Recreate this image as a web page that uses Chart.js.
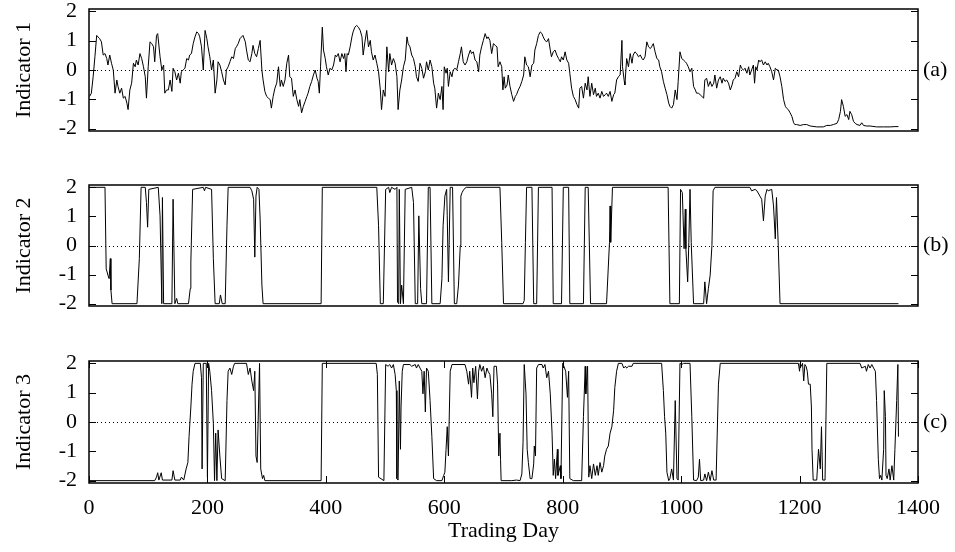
<!DOCTYPE html>
<html>
<head>
<meta charset="utf-8">
<script src="https://cdn.jsdelivr.net/npm/chart.js@4.4.0/dist/chart.umd.min.js"></script>
<style>
  body { margin: 0; background: #fff; }
  canvas { position: absolute; left: 0; }
</style>
</head>
<body>
<canvas id="g1" width="955" height="140" style="top:0px"></canvas>
<canvas id="g2" width="955" height="140" style="top:175px"></canvas>
<canvas id="g3" width="955" height="202" style="top:350px"></canvas>
<script>
// Ejes y textos
const xTicks = [0, 200, 400, 600, 800, 1000, 1200, 1400];
const yTicks = [-2, -1, 0, 1, 2];
const yTickLabels = ['-2', '-1', '0', '1', '2'];
const axisTitles = ['Indicator 1', 'Indicator 2', 'Indicator 3'];
const panelLabels = ['(a)', '(b)', '(c)'];
const xTitle = 'Trading Day';

// Indicador 1 (dia de negociacion -> valor)
const days1 = [
  1, 4, 7, 10, 13, 15, 18, 21, 24, 27,
  30, 32, 35, 38, 41, 44, 47, 49, 52, 55,
  58, 61, 64, 66, 69, 72, 75, 78, 80, 83,
  86, 89, 92, 95, 97, 100, 103, 106, 109, 111,
  114, 116, 120, 123, 126, 128, 131, 134, 137, 140,
  142, 145, 148, 151, 154, 156, 159, 162, 165, 168,
  170, 173, 176, 179, 182, 185, 187, 190, 193, 196,
  199, 201, 204, 207, 210, 213, 216, 218, 221, 224,
  227, 230, 232, 235, 238, 241, 244, 247, 249, 252,
  255, 260, 264, 266, 269, 272, 275, 277, 280, 283,
  286, 289, 292, 294, 297, 300, 303, 306, 308, 311,
  314, 317, 320, 323, 325, 328, 331, 334, 337, 339,
  342, 345, 348, 351, 354, 356, 359, 362, 365, 368,
  370, 373, 376, 379, 382, 385, 387, 389, 391, 394,
  396, 399, 401, 404, 407, 410, 413, 416, 418, 421,
  424, 427, 430, 432, 434, 436, 438, 441, 444, 446,
  449, 452, 455, 458, 461, 463, 466, 469, 472, 475,
  477, 480, 483, 486, 489, 492, 494, 497, 500, 503,
  506, 508, 511, 514, 517, 520, 522, 525, 528, 531,
  534, 537, 539, 542, 545, 548, 551, 553, 556, 559,
  562, 565, 568, 570, 573, 576, 579, 582, 584, 587,
  590, 593, 596, 598, 600, 603, 605, 607, 610, 613,
  615, 618, 621, 624, 627, 629, 632, 635, 638, 641,
  644, 646, 649, 652, 655, 658, 660, 663, 666, 669,
  672, 674, 677, 680, 683, 686, 689, 691, 694, 697,
  699, 701, 703, 706, 708, 711, 714, 717, 720, 722,
  725, 728, 731, 734, 736, 739, 742, 745, 748, 751,
  753, 756, 759, 762, 765, 767, 770, 773, 776, 779,
  781, 784, 787, 790, 793, 796, 798, 801, 804, 807,
  810, 812, 815, 818, 821, 824, 827, 829, 832, 835,
  838, 841, 843, 846, 849, 852, 855, 857, 860, 863,
  866, 869, 872, 874, 877, 880, 883, 886, 888, 891,
  894, 897, 900, 901, 904, 905, 908, 911, 914, 917,
  919, 922, 925, 928, 931, 934, 936, 939, 942, 945,
  948, 950, 953, 956, 959, 962, 964, 967, 970, 973,
  976, 979, 981, 984, 987, 990, 993, 995, 998, 1001,
  1004, 1007, 1009, 1012, 1015, 1018, 1021, 1024, 1026, 1029,
  1032, 1035, 1038, 1040, 1043, 1046,
  1049, 1052, 1055, 1057, 1060, 1063, 1066, 1069, 1071, 1074,
  1077, 1080, 1083, 1086, 1088, 1091, 1094, 1097, 1100, 1102,
  1105, 1108, 1111, 1114, 1116, 1119, 1122, 1124, 1126, 1128,
  1131, 1133, 1136, 1139, 1142, 1145, 1147, 1150, 1153, 1156,
  1159, 1162, 1164, 1167, 1170, 1173, 1176, 1178, 1181, 1184,
  1187, 1190, 1192, 1195, 1201, 1207, 1212, 1218, 1229, 1240,
  1246, 1252, 1257, 1263, 1266, 1269, 1271, 1274, 1277, 1280,
  1283, 1285, 1288, 1291, 1294, 1297, 1302, 1305, 1308, 1313,
  1319, 1330, 1342, 1353, 1361, 1367
];
const indicator1 = [
  -0.90, -0.79, -0.23, 0.45, 1.18, 1.13, 1.07, 0.96, 0.51, 0.56,
  0.39, 0.17, 0.51, 0.23, 0, -0.79, -0.34, -0.56, -0.79, -0.62,
  -0.96, -0.90, -1.13, -1.35, -0.68, -0.45, 0.23, 0.11, 0.34, 0.17,
  0.56, 0.39, 0.11, -0.23, -0.96, 0.11, 0.96, 0.90, 0.79, 0.28,
  1.18, 1.24, 0.45, 0, 0.17, -0.79, -0.68, -0.68, -0.34, -0.73,
  0.06, -0.06, -0.34, -0.11, -0.45, -0.06, 0, 0.06, 0.39, 0.34,
  0.51, 0.56, 0.90, 1.13, 1.30, 1.24, 1.13, 0.79, 0, 1.35,
  1.07, 0.79, 0.45, 0, 0.34, -0.79, -0.34, 0.28, 0.17, -0.06,
  -0.34, -0.51, 0, 0.11, 0.28, 0.45, 0.39, 0.73, 0.79, 0.90,
  1.07, 1.18, 0.96, 0.68, 0.34, 0.28, 0.56, 0.84, 0.56, 0.45,
  0.73, 1.01, 0, -0.34, -0.73, -0.90, -0.96, -1.01, -1.30, -0.90,
  -0.62, -0.45, 0.11, -0.56, -0.34, -0.56, -0.34, 0.23, 0.51, -0.23,
  -0.28, -0.90, -0.68, -1.01, -1.24, -1.01, -1.46, -1.24, -1.07, -0.90,
  -0.79, -0.56, -0.39, -0.17, 0, -0.28, -0.39, -0.79, 0.11, 1.46,
  0.68, 0.39, 0.11, -0.17, 0.06, 0, 0.17, 0.51, 0.45, 0.56,
  0.28, 0.56, 0.39, 0.56, -0.06, 0.56, 0.51, 0.79, 1.13, 1.30,
  1.46, 1.52, 1.46, 1.35, 1.13, 0.51, 0.96, 1.35, 0.79, 1.01,
  0.62, 0.34, 0.51, 0.23, -0.06, -0.68, -1.35, -0.68, -0.90, 0.79,
  -0.06, 0.56, 0.17, 0.39, 0.23, -0.23, -1.35, -0.68, -0.34, 0.11,
  0.34, 1.13, 0.90, 0.79, 0.51, 0.39, 0.11, -0.23, -0.39, 0.23,
  0.06, -0.28, -0.06, 0.28, 0, 0.34, 0.11, -0.45, -0.62, -1.30,
  -0.79, -1.01, -0.56, -1.35, 0.11, -0.11, 0.06, -0.56, -0.06, -0.23,
  0, 0.06, 0, 0.28, 0.56, 0.79, 0.28, 0.17, 0.28, 0.51,
  0.68, 0.56, 0.62, 0.34, 0.28, -0.06, 0.51, 0.79, 1.01, 1.24,
  1.07, 1.13, 1.01, 0.56, 0.90, 0.84, 0.79, 0.11, 0.28, 0.11,
  -0.68, -0.23, -0.62, -0.51, -0.17, -0.56, -0.84, -1.07, -0.90, -0.84,
  -0.68, -0.56, -0.39, -0.17, 0.45, 0.17, 0.11, -0.23, 0.17, 0.23,
  0.68, 0.90, 1.18, 1.30, 1.24, 1.13, 1.01, 0.96, 1.07, 0.68,
  0.45, 0.62, 0.68, 0.51, 0.39, 0.28, 0.45, 0.34, 0.62, 0.34,
  0.23, -0.11, -0.62, -0.90, -1.01, -1.18, -1.30, -0.62, -0.56, -0.96,
  -0.45, -0.68, -0.23, -0.90, -0.45, -0.84, -0.62, -0.90, -0.79, -0.96,
  -0.73, -0.90, -0.84, -0.79, -0.90, -0.73, -1.07, -0.84, -0.79, -0.34,
  -0.23, -0.17, 1.01, 0.11, -0.39, -0.51, 0.39, 0.11, 0.56, 0.23,
  0.51, 0.62, 0.56, 0.45, 0.51, 0.39, 0.34, 0.45, 0.96, 0.79,
  0.73, 0.79, 0.90, 0.62, 0.39, 0.34, 0.11, -0.06, -0.39, -0.62,
  -0.84, -1.13, -1.24, -1.30, -1.18, -0.68, -1.01, -0.39, 0.62, 0.39,
  0.34, 0.28, 0.23, 0.11, -0.06, 0.06, -0.56, -0.68, -0.79, -0.79,
  -0.84, -0.90, -0.96, -0.34, -0.28, -0.56,
  -0.39, -0.56, -0.45, -0.17, -0.62, -0.34, -0.23, -0.45, -0.28, -0.39,
  -0.34, -0.45, -0.68, -0.51, -0.34, -0.28, -0.06, -0.23, 0.17, 0.06,
  0, 0.06, -0.11, 0.11, -0.17, 0, 0.17, -0.45, 0.11, 0,
  0.34, 0.28, 0.34, 0.17, 0.28, 0.17, 0.23, 0.11, -0.06, -0.34,
  0.06, 0, 0, -0.23, -0.56, -1.01, -1.24, -1.30, -1.35, -1.46,
  -1.58, -1.80, -1.86, -1.86, -1.89, -1.86, -1.86, -1.91, -1.94, -1.94,
  -1.89, -1.89, -1.86, -1.82, -1.69, -1.41, -1.01, -1.24, -1.58, -1.52,
  -1.69, -1.41, -1.52, -1.75, -1.82, -1.86, -1.89, -1.80, -1.89, -1.91,
  -1.91, -1.94, -1.94, -1.94, -1.93, -1.93
];

// Indicador 2
const days2 = [
  0, 27, 29, 32, 34, 36, 37, 39, 81, 85,
  88, 95, 97, 99, 101, 117, 120, 123, 124, 126,
  140, 142, 145, 148, 150, 168, 171, 172, 175, 193,
  195, 197, 207, 210, 213, 220, 222, 225, 230, 233,
  235, 272, 275, 278, 280, 282, 284, 287, 289, 292,
  294, 392, 394, 486, 489, 492, 497, 501, 506, 508,
  511, 517, 520, 521, 523, 524, 526, 528, 531, 534,
  545, 548, 551, 555, 557, 560, 562, 570, 573, 576,
  579, 593, 596, 598, 601, 604, 605, 607, 610, 614,
  617, 621, 624, 627, 628, 630, 633, 637, 694, 697,
  700, 733, 735, 737, 739, 748, 751, 756, 759, 782,
  784, 798, 801, 810, 812, 835, 838, 843, 847, 874,
  879, 880, 881, 884, 978, 981, 997, 999, 1002, 1005,
  1007, 1008, 1011, 1013, 1015, 1017, 1021, 1038, 1040, 1043,
  1046, 1049, 1052, 1054, 1057, 1116, 1119, 1125, 1128, 1133,
  1136, 1139, 1142, 1145, 1147, 1153, 1156, 1159, 1161, 1164,
  1167, 1367
];
const indicator2 = [
  2, 2, -0.80, -1.02, -1.14, -0.45, -1.53, -2, -2, -0.45,
  2, 2, 1.48, 0.63, 1.93, 2, 1.02, -2, 1.65, -2,
  -2, 1.59, -2, -1.82, -2, -2, -1.48, -0.57, 1.93, 2,
  1.88, 2, 1.93, -0.45, -2, -2, -1.70, -2, -2, 0.68,
  2, 2, 1.88, 1.59, -0.40, 1.70, 2, 1.93, 0.91, -1.36,
  -2, -2, 2, 2, 0.68, -2, -2, 1.93, 2, 1.82,
  2, 1.93, 2, -1.94, -2, 1.93, -2, -1.36, -2, 1.93,
  2, 1.48, -2, -2, 1.02, -1.48, -2, -2, 2, 2,
  -2, -2, -1.14, 0.68, 1.70, 1.93, 1.02, -1.25, 2, 2,
  -2, -2, -1.36, 0, 1.70, 1.82, 1.93, 2, 2, 0.11,
  -2, -2, -1.89, 0.11, 2, 2, -2, -2, 2, 2,
  -2, -2, 2, 2, -2, -2, 2, 2, -2, -2,
  0.11, 1.36, 0.11, 2, 2, -2, -2, 1.93, 1.82, -0.11,
  1.25, -0.11, -1.25, 0.11, 1.93, 0.11, -2, -2, -1.25, -2,
  -1.48, -1.02, 0, 1.88, 2, 2, 1.88, 1.93, 1.88, 1.70,
  1.59, 0.85, 1.70, 1.93, 1.88, 1.93, 1.36, 0.23, 1.65, 0,
  -2, -2
];

// Indicador 3
const days3 = [
  0, 111, 114, 116, 118, 122, 124, 140, 142, 145,
  154, 156, 160, 164, 167, 169, 172, 174, 176, 179,
  188, 190, 191, 193, 198, 200, 202, 204, 207, 210,
  212, 214, 216, 218, 221, 224, 230, 233, 235, 238,
  241, 244, 246, 266, 269, 272, 275, 278, 280, 282,
  284, 288, 290, 293, 295, 297, 392, 394, 485, 487,
  489, 498, 501, 505, 508, 511, 514, 517, 519, 520,
  522, 524, 526, 527, 529, 531, 542, 545, 551, 553,
  556, 559, 562, 564, 566, 568, 570, 573, 576, 579,
  582, 587, 596, 599, 601, 603, 605, 607, 610, 613,
  635, 638, 641, 643, 646, 648, 650, 653, 656, 658,
  660, 663, 666, 669, 672, 674, 677, 680, 682, 684,
  688, 690, 692, 694, 695, 696, 714, 722, 728, 731,
  733, 735, 738, 740, 742, 745, 748, 751, 752, 754,
  756, 759, 765, 767, 770, 773, 776, 779, 782, 784,
  786, 788, 791, 792, 796, 797, 800, 802, 805, 808,
  810, 812, 818, 832, 835, 838, 839, 842, 844, 846,
  849, 852, 855, 858, 860, 863, 866, 869, 871, 874,
  877, 880, 883, 886, 888, 891, 894, 900, 903, 906,
  908, 911, 917, 919, 967, 970, 972, 974, 976, 979,
  981, 984, 987, 990, 993, 995, 998, 1001, 1004, 1015,
  1018, 1021, 1026, 1029, 1031, 1033, 1038, 1040, 1043, 1046,
  1049, 1052, 1055, 1059, 1063, 1066, 1198, 1200, 1201, 1203,
  1205, 1207, 1209, 1211, 1213, 1215, 1218, 1220, 1221, 1223,
  1229, 1232, 1235, 1237, 1239, 1243, 1246, 1302, 1305, 1311,
  1313, 1316, 1319, 1322, 1325, 1328, 1330, 1333, 1335, 1337,
  1339, 1342, 1343, 1345, 1346, 1348, 1351, 1353, 1356, 1359,
  1361, 1364, 1366, 1367
];
const indicator3 = [
  -2, -2, -1.88, -1.73, -1.98, -1.73, -1.98, -1.98, -1.66, -1.98,
  -1.98, -1.88, -1.98, -1.60, -1.38, -0.49, 0.51, 1.29, 1.73, 2,
  2, 1.51, -1.60, 2, 2, -1.88, 2, 1.73, 1.07, -0.04,
  -2, -0.38, -2, -0.27, -1.16, -1.93, -2, 0.73, 1.73, 1.84,
  1.62, 1.90, 2, 2, 1.62, 1.84, 1.40, 1.07, 1.73, -1.16,
  -1.38, 2, -1.60, -1.93, -1.82, -2, -2, 2, 2, 1.62,
  -1.88, -2, 1.96, 1.90, 1.96, 1.84, 1.96, 1.62, 1.07, -1.93,
  -1.98, 1.40, -0.93, 0.51, 1.73, 1.96, 1.96, 1.90, 1.96, 1.84,
  1.96, 1.84, 1.73, 0.96, 1.73, 0.34, 1.84, 1.73, 0.73, -0.49,
  -1.93, -2, -2, -1.82, -1.71, -0.93, -0.16, -1.16, 1.73, 1.96,
  1.96, 1.73, 1.29, 1.73, 0.84, 1.84, 1.34, 1.90, 0.79, 1.73,
  1.96, 1.73, 1.90, 1.51, 1.84, 1.73, 1.62, 0.96, 0.18, 1.90,
  1.90, 1.29, -1.16, -0.38, -1.27, -2, -2, -1.98, -2, -1.77,
  -0.71, 1.96, 0.96, -0.93, -1.38, -1.93, -1.93, -1.43, -0.82, -1.16,
  1.84, 1.96, 1.96, 1.84, 1.96, 1.51, 1.73, 0.96, -0.38, -1.82,
  -1.27, -1.93, -0.93, -1.82, -1.49, -1.93, 2, 1.90, 1.73, 0.84,
  1.73, -1.93, -2, -2, 0.18, 1.90, 0.96, 1.90, -1.88, -1.49,
  -1.93, -1.43, -1.82, -1.49, -1.82, -1.38, -1.71, -1.49, -1.16, -0.93,
  -0.82, -0.38, -0.16, 0.40, 1.18, 1.73, 2, 2, 1.84, 1.90,
  1.84, 1.90, 1.90, 2, 2, 1.07, 0.18, -0.38, -1.71, -2,
  -1.93, -1.60, -1.98, 0.73, -1.93, -1.98, 2, 1.96, 2, 2,
  0.18, -1.98, -2, -1.88, -1.27, -2, -1.98, -1.77, -2, -1.71,
  -2, -1.66, -1.98, -1.98, 1.29, 2, 2, 1.73, 2, 1.90,
  2, 1.40, 1.96, 1.90, 1.73, 1.29, 1.29, 0.51, -0.93, -1.98,
  -1.98, -0.93, -1.60, -0.16, -1.98, -1.98, 2, 2, 1.84, 1.90,
  1.73, 1.96, 1.84, 1.96, 1.84, 1.73, 0.73, -1.27, -1.93, -1.82,
  -1.98, -0.93, 1.07, 0.18, -1.82, -1.93, -1.60, -1.98, -1.49, -1.98,
  -0.93, 0.73, 1.96, -0.50
];

const series = [[days1, indicator1], [days2, indicator2], [days3, indicator3]];

const FAMILIA = "'Liberation Serif', 'Times New Roman', serif";
Chart.defaults.font.family = FAMILIA;
Chart.defaults.font.size = 22;
Chart.defaults.color = '#000';

// Marco, marcas hacia dentro, linea punteada en cero y etiqueta (a)/(b)/(c)
const marcoPlugin = {
  id: 'marco',
  beforeDatasetsDraw(chart) {
    const { ctx, chartArea: a, scales: { y } } = chart;
    const y0 = Math.round(y.getPixelForValue(0)) + 0.5;
    ctx.save();
    ctx.strokeStyle = '#000';
    ctx.lineWidth = 1;
    ctx.setLineDash([1, 3]);
    ctx.beginPath();
    ctx.moveTo(a.left, y0);
    ctx.lineTo(a.right, y0);
    ctx.stroke();
    ctx.restore();
  },
  afterDraw(chart, args, opts) {
    const { ctx, chartArea: a, scales: { x, y } } = chart;
    ctx.save();
    ctx.strokeStyle = '#000';
    ctx.lineWidth = 1.5;
    ctx.strokeRect(a.left, a.top, a.right - a.left, a.bottom - a.top);
    ctx.lineWidth = 1;
    ctx.beginPath();
    yTicks.forEach((v) => {
      const py = Math.round(y.getPixelForValue(v)) + 0.5;
      ctx.moveTo(a.left, py); ctx.lineTo(a.left + 7, py);
      ctx.moveTo(a.right, py); ctx.lineTo(a.right - 7, py);
    });
    if (opts.xTicks) {
      xTicks.forEach((v) => {
        const px = Math.round(x.getPixelForValue(v)) + 0.5;
        ctx.moveTo(px, a.bottom); ctx.lineTo(px, a.bottom - 7);
        ctx.moveTo(px, a.top); ctx.lineTo(px, a.top + 7);
      });
    }
    ctx.stroke();
    ctx.fillStyle = '#000';
    ctx.font = '22px ' + FAMILIA;
    ctx.textBaseline = 'middle';
    ctx.textAlign = 'left';
    ctx.fillText(opts.label, a.right + 5, y.getPixelForValue(0));
    ctx.restore();
  }
};

// Sin relleno extra por media etiqueta en los extremos
const sinRelleno = (eje) => {
  eje.paddingTop = 0;
  eje.paddingBottom = 0;
  eje.paddingLeft = 0;
  eje.paddingRight = 0;
};

// Crear cada panel
const crearPanel = (idCanvas, idx, paddingTop, paddingBottom, ultimo) => {
  const [dias, valores] = series[idx];
  const puntos = dias.map((d, i) => ({ x: d, y: valores[i] }));
  return new Chart(document.getElementById(idCanvas), {
    type: 'line',
    data: {
      datasets: [{
        data: puntos,
        borderColor: '#000',
        borderWidth: 1,
        pointRadius: 0,
        tension: 0,
        fill: false
      }]
    },
    options: {
      responsive: false,
      animation: false,
      events: [],
      layout: { padding: { top: paddingTop, bottom: paddingBottom, left: 0, right: 37 } },
      plugins: {
        legend: { display: false },
        tooltip: { enabled: false },
        marco: { label: panelLabels[idx], xTicks: ultimo }
      },
      scales: {
        x: {
          type: 'linear',
          min: 0,
          max: 1400,
          display: ultimo,
          afterBuildTicks: (eje) => { eje.ticks = xTicks.map((v) => ({ value: v })); },
          afterFit: (eje) => { sinRelleno(eje); if (ultimo) eje.height = 69; },
          grid: { display: false, drawTicks: false },
          border: { display: false },
          ticks: { padding: 12, maxRotation: 0, autoSkip: false, callback: (v) => String(v) },
          title: { display: ultimo, text: xTitle, padding: { top: 0, bottom: 8 } }
        },
        y: {
          min: -2.08,
          max: 2.08,
          afterBuildTicks: (eje) => { eje.ticks = yTicks.map((v) => ({ value: v })); },
          afterFit: (eje) => { sinRelleno(eje); eje.width = 89; },
          grid: { display: false, drawTicks: false },
          border: { display: false },
          ticks: { padding: 12, autoSkip: false, callback: (v, i) => yTickLabels[i] },
          title: { display: true, text: axisTitles[idx], padding: { top: 11, bottom: 0 } }
        }
      }
    },
    plugins: [marcoPlugin]
  });
};

crearPanel('g1', 0, 9, 9, false);
crearPanel('g2', 1, 10, 9, false);
crearPanel('g3', 2, 11, 0, true);
</script>
</body>
</html>
